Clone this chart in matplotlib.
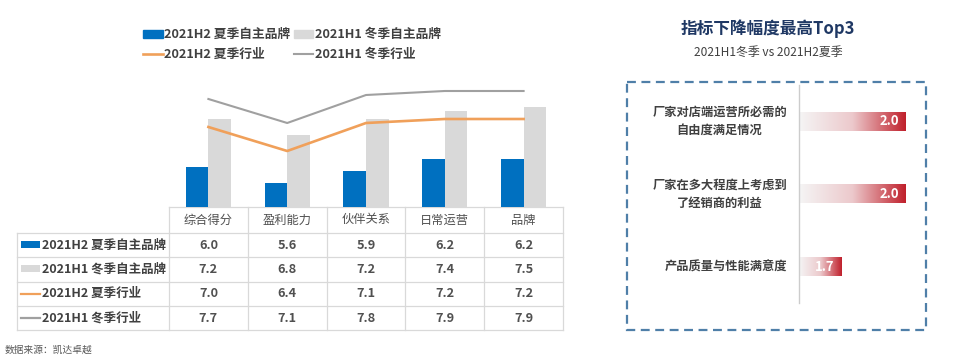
import numpy as np
import matplotlib
matplotlib.use('Agg')
import matplotlib.pyplot as plt
from matplotlib.patches import Rectangle, Patch
from matplotlib.lines import Line2D
from matplotlib.colors import LinearSegmentedColormap

plt.rcParams['font.family'] = ['Noto Sans CJK SC', 'DejaVu Sans']

# data
categories = ['综合得分', '盈利能力', '伙伴关系', '日常运营', '品牌']
series_names = ['2021H2 夏季自主品牌', '2021H1 冬季自主品牌',
                '2021H2 夏季行业', '2021H1 冬季行业']
h2_brand = [6.0, 5.6, 5.9, 6.2, 6.2]
h1_brand = [7.2, 6.8, 7.2, 7.4, 7.5]
h2_industry = [7.0, 6.4, 7.1, 7.2, 7.2]
h1_industry = [7.7, 7.1, 7.8, 7.9, 7.9]

top3_labels = ['厂家对店端运营所必需的\n自由度满足情况',
               '厂家在多大程度上考虑到\n了经销商的利益',
               '产品质量与性能满意度']
top3_values = [2.0, 2.0, 1.7]

c_blue = '#0070c0'
c_lgray = '#d9d9d9'
c_orange = '#f0a05a'
c_gray = '#a0a0a0'
c_text = '#404040'
c_grid = '#d9d9d9'

W, H = 960, 358
fig = plt.figure(figsize=(9.6, 3.58), dpi=100)


def px_axes(x0, y0, x1, y1):
    a = fig.add_axes([x0 / W, 1 - y1 / H, (x1 - x0) / W, (y1 - y0) / H])
    a.patch.set_alpha(0)
    return a


# overlay in pixel coords for table / frame
ov = fig.add_axes([0, 0, 1, 1])
ov.set_xlim(0, W)
ov.set_ylim(H, 0)
ov.axis('off')

##############
# MAIN CHART #
##############
tab_left, lab_right, col_w = 17, 169, 78.8
tab_right = lab_right + col_w * len(categories)
ax_bottom = 207

ax = px_axes(lab_right, 60, tab_right, ax_bottom)
x = np.arange(len(categories))
bw = 0.286
ax.bar(x - bw / 2, h2_brand, bw, color=c_blue)
ax.bar(x + bw / 2, h1_brand, bw, color=c_lgray)
ax.plot(x, h2_industry, color=c_orange, lw=1.9)
ax.plot(x, h1_industry, color=c_gray, lw=1.5)
ax.set_xlim(-0.5, len(categories) - 0.5)
ax.set_ylim(5.0, 5.0 + 147 / 40)
ax.axis('off')

# legend
handles = [Patch(color=c_blue), Line2D([], [], color=c_orange, lw=1.9),
           Patch(color=c_lgray), Line2D([], [], color=c_gray, lw=1.5)]
labels = [series_names[0], series_names[2], series_names[1], series_names[3]]
fig.legend(handles, labels, ncol=2, loc='upper left',
           bbox_to_anchor=(137 / W, 1 - 22 / H), frameon=False,
           prop={'size': 9.2, 'weight': 'bold'}, labelcolor=c_text,
           handlelength=1.5, handleheight=0.55, handletextpad=0.12,
           columnspacing=0.3, labelspacing=0.55, borderpad=0)

#########
# TABLE #
#########
head_top = ax_bottom
row_top = 233
row_h = 24.3
n_rows = len(series_names)
tab_bottom = row_top + row_h * n_rows

ov.plot([lab_right, tab_right], [head_top, head_top], color=c_grid, lw=0.9)
for r in range(n_rows + 1):
    y = row_top + r * row_h
    ov.plot([tab_left, tab_right], [y, y], color=c_grid, lw=0.9)
ov.plot([tab_left, tab_left], [row_top, tab_bottom], color=c_grid, lw=0.9)
for c in range(len(categories) + 1):
    xx = lab_right + c * col_w
    ov.plot([xx, xx], [head_top, tab_bottom], color=c_grid, lw=0.9)

for c, cat in enumerate(categories):
    ov.text(lab_right + (c + 0.5) * col_w, (head_top + row_top) / 2, cat,
            ha='center', va='center', fontsize=8.8, color='#505050')

rows = [h2_brand, h1_brand, h2_industry, h1_industry]
for r, (name, vals) in enumerate(zip(series_names, rows)):
    yc = row_top + (r + 0.5) * row_h
    if r < 2:
        ov.add_patch(Rectangle((21, yc - 4), 19, 7,
                               color=[c_blue, c_lgray][r], lw=0))
    else:
        ov.plot([21, 40], [yc, yc], color=[c_orange, c_gray][r - 2], lw=1.6)
    ov.text(42, yc, name, ha='left', va='center', fontsize=9.0,
            weight='bold', color=c_text)
    for c, v in enumerate(vals):
        ov.text(lab_right + (c + 0.5) * col_w, yc, f'{v:.1f}', ha='center',
                va='center', fontsize=9.2, weight='bold', color='#505050')

ov.text(5, 350, '数据来源：凯达卓越', ha='left', va='center', fontsize=7,
        color='#595959')

###############
# RIGHT PANEL #
###############
fig.text(768 / W, 1 - 29 / H, '指标下降幅度最高Top3', ha='center',
         va='center', fontsize=12, weight='bold', color='#1f3864')
fig.text(768 / W, 1 - 52 / H, '2021H1冬季 vs 2021H2夏季', ha='center',
         va='center', fontsize=8.6, color=c_text)

ov.add_patch(Rectangle((627, 82), 299, 248, fill=False, edgecolor='#4f7fa8',
                       lw=1.6, linestyle=(0, (4, 2.5))))

x0 = 1.5
ppu = 214
rx = px_axes(799, 85, 915, 303)
cmap = LinearSegmentedColormap.from_list('g', ['#f5f5f5', '#ecc9cc', '#c0202c'])
grad = np.linspace(0, 1, 256).reshape(1, -1)
bh = 0.26
for i, v in enumerate(top3_values):
    rx.imshow(grad, extent=[x0, v, i + bh / 2, i - bh / 2], cmap=cmap,
              aspect='auto', interpolation='bilinear')
    rx.text(v - 7 / ppu, i, f'{v:.1f}', ha='right', va='center',
            fontsize=9.4, weight='bold', color='white')
    rx.text(x0 - 12 / ppu, i, top3_labels[i], ha='right', va='center',
            multialignment='center', linespacing=1.55, fontsize=8.8,
            weight='bold', color=c_text, clip_on=False)
rx.set_xlim(x0, x0 + 116 / ppu)
rx.set_ylim(len(top3_values) - 0.5, -0.5)
for s in ['top', 'right', 'bottom']:
    rx.spines[s].set_visible(False)
rx.spines['left'].set_color('#cccccc')
rx.spines['left'].set_linewidth(1)
rx.set_xticks([])
rx.set_yticks([])

fig.savefig('out.png', dpi=100)
